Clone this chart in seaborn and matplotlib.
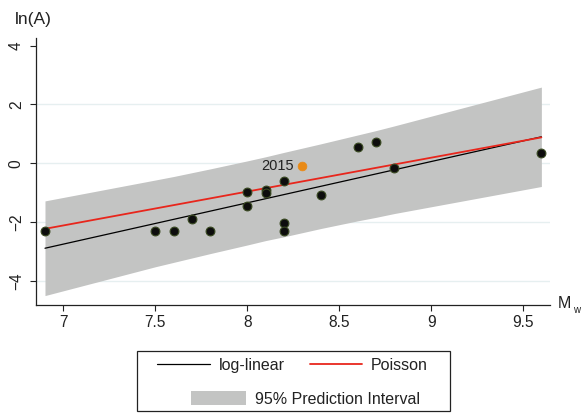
import matplotlib
matplotlib.use("Agg")
import matplotlib.pyplot as plt
from matplotlib.lines import Line2D
from matplotlib.patches import Patch, Rectangle
import seaborn as sns
import pandas as pd

# Observed events: moment magnitude and log of the observed quantity
mw = [6.9, 7.5, 7.6, 7.7, 7.8, 8.0, 8.0, 8.1, 8.1, 8.2, 8.2, 8.2, 8.4, 8.6, 8.7, 8.8, 9.6]
ln_a = [-2.30, -2.30, -2.30, -1.90, -2.30, -0.99, -1.44, -0.92, -1.00, -0.59, -2.04, -2.30,
        -1.07, 0.56, 0.72, -0.17, 0.36]

# Highlighted event
mw_2015 = [8.3]
ln_a_2015 = [-0.10]
label_2015 = "2015"

# Fitted lines (evaluated at the ends of the data range)
fit_x = [6.9, 9.6]
loglinear_fit = [-2.89, 0.90]
poisson_fit = [-2.23, 0.88]

# 95% prediction interval of the log-linear fit
band_x = [6.9, 7.5, 7.6, 7.7, 7.8, 8.0, 8.1, 8.2, 8.4, 8.6, 8.7, 8.8, 9.6]
band_lo = [-4.50, -3.52, -3.37, -3.22, -3.07, -2.78, -2.63, -2.50, -2.22, -1.96, -1.84, -1.71, -0.79]
band_hi = [-1.28, -0.57, -0.45, -0.32, -0.19, 0.08, 0.22, 0.37, 0.66, 0.96, 1.11, 1.27, 2.59]

x_ticks = [7, 7.5, 8, 8.5, 9, 9.5]
x_tick_labels = ["7", "7.5", "8", "8.5", "9", "9.5"]
y_ticks = [-4, -2, 0, 2, 4]
y_tick_labels = ["\u22124", "\u22122", "0", "2", "4"]
grid_y = [-4, -2, 0, 2]

BAND = "#c3c4c3"
RED = "#e8261c"
ORANGE = "#e98a16"
INK = "#222222"

sns.set_style("white")
plt.rcParams["font.family"] = ["Liberation Sans", "DejaVu Sans"]

fig = plt.figure(figsize=(5.87, 4.17), dpi=100)
ax = fig.add_axes([0.0613, 0.2686, 0.8757, 0.6403])

for g in grid_y:
    ax.axhline(g, color="#e6eff0", lw=1.0, zorder=0)

band = pd.DataFrame({"mw": band_x, "lo": band_lo, "hi": band_hi})
ax.fill_between(band["mw"], band["lo"], band["hi"], color=BAND, lw=0, zorder=1)

sns.lineplot(x=fit_x, y=loglinear_fit, color="black", lw=0.9, ax=ax, zorder=2)
sns.lineplot(x=fit_x, y=poisson_fit, color=RED, lw=1.3, ax=ax, zorder=3)

pts = pd.DataFrame({"mw": mw, "ln_a": ln_a})
sns.scatterplot(data=pts, x="mw", y="ln_a", color="#0d0d0d", edgecolor="#3a4a22",
                linewidth=0.8, s=40, ax=ax, zorder=4)
sns.scatterplot(x=mw_2015, y=ln_a_2015, color=ORANGE, edgecolor=ORANGE,
                linewidth=0.5, s=40, ax=ax, zorder=4)
ax.annotate(label_2015, xy=(mw_2015[0], ln_a_2015[0]), xytext=(-5.8, 0),
            textcoords="offset points", ha="right", va="center",
            fontsize=10.5, color=INK)

ax.set_xlim(6.851, 9.647)
ax.set_ylim(-4.82, 4.26)
ax.set_xticks(x_ticks)
ax.set_xticklabels(x_tick_labels)
ax.set_yticks(y_ticks)
ax.set_yticklabels(y_tick_labels, rotation=90, va="center")
ax.tick_params(axis="x", bottom=True, direction="out", length=4.5, width=0.8,
               color=INK, labelsize=11.2, pad=2.4, labelcolor=INK)
ax.tick_params(axis="y", left=True, direction="out", length=4.5, width=0.8,
               color=INK, labelsize=11.2, pad=4.3, labelcolor=INK)
ax.set_xlabel("")
ax.set_ylabel("")
for side in ("top", "right"):
    ax.spines[side].set_visible(False)
for side in ("left", "bottom"):
    ax.spines[side].set_color(INK)
    ax.spines[side].set_linewidth(0.9)

fig.text(15 / 587, 1 - 19.5 / 417, "ln(A)", ha="left", va="center",
         fontsize=12.5, color=INK)
fig.text(558 / 587, 1 - 308 / 417, "M", ha="left", va="baseline",
         fontsize=11.5, color=INK)
fig.text(573.5 / 587, 1 - 313 / 417, "w", ha="left", va="baseline",
         fontsize=7, color=INK)

# Legend: two rows inside a single framed box
h_lin = Line2D([], [], color="black", lw=0.9)
h_poi = Line2D([], [], color=RED, lw=1.3)
h_band = Patch(facecolor=BAND, edgecolor="none")
fig.legend(handles=[h_lin, h_poi], labels=["log-linear", "Poisson"], ncol=2,
           frameon=False, loc="center", bbox_to_anchor=(0.4983, 0.1247),
           fontsize=11.5, handlelength=3.3, handletextpad=0.56,
           columnspacing=1.56, borderpad=0, labelcolor=INK)
fig.legend(handles=[h_band], labels=["95% Prediction Interval"],
           frameon=False, loc="center", bbox_to_anchor=(0.521, 0.0432),
           fontsize=11.5, handlelength=3.44, handleheight=0.94,
           handletextpad=0.56, borderpad=0, labelcolor=INK)
fig.add_artist(Rectangle((137 / 587, 1 - 411 / 417), (450 - 137) / 587,
                         (411 - 351) / 417, transform=fig.transFigure,
                         fill=False, edgecolor=INK, lw=0.9))

fig.savefig("out.png", dpi=100)
